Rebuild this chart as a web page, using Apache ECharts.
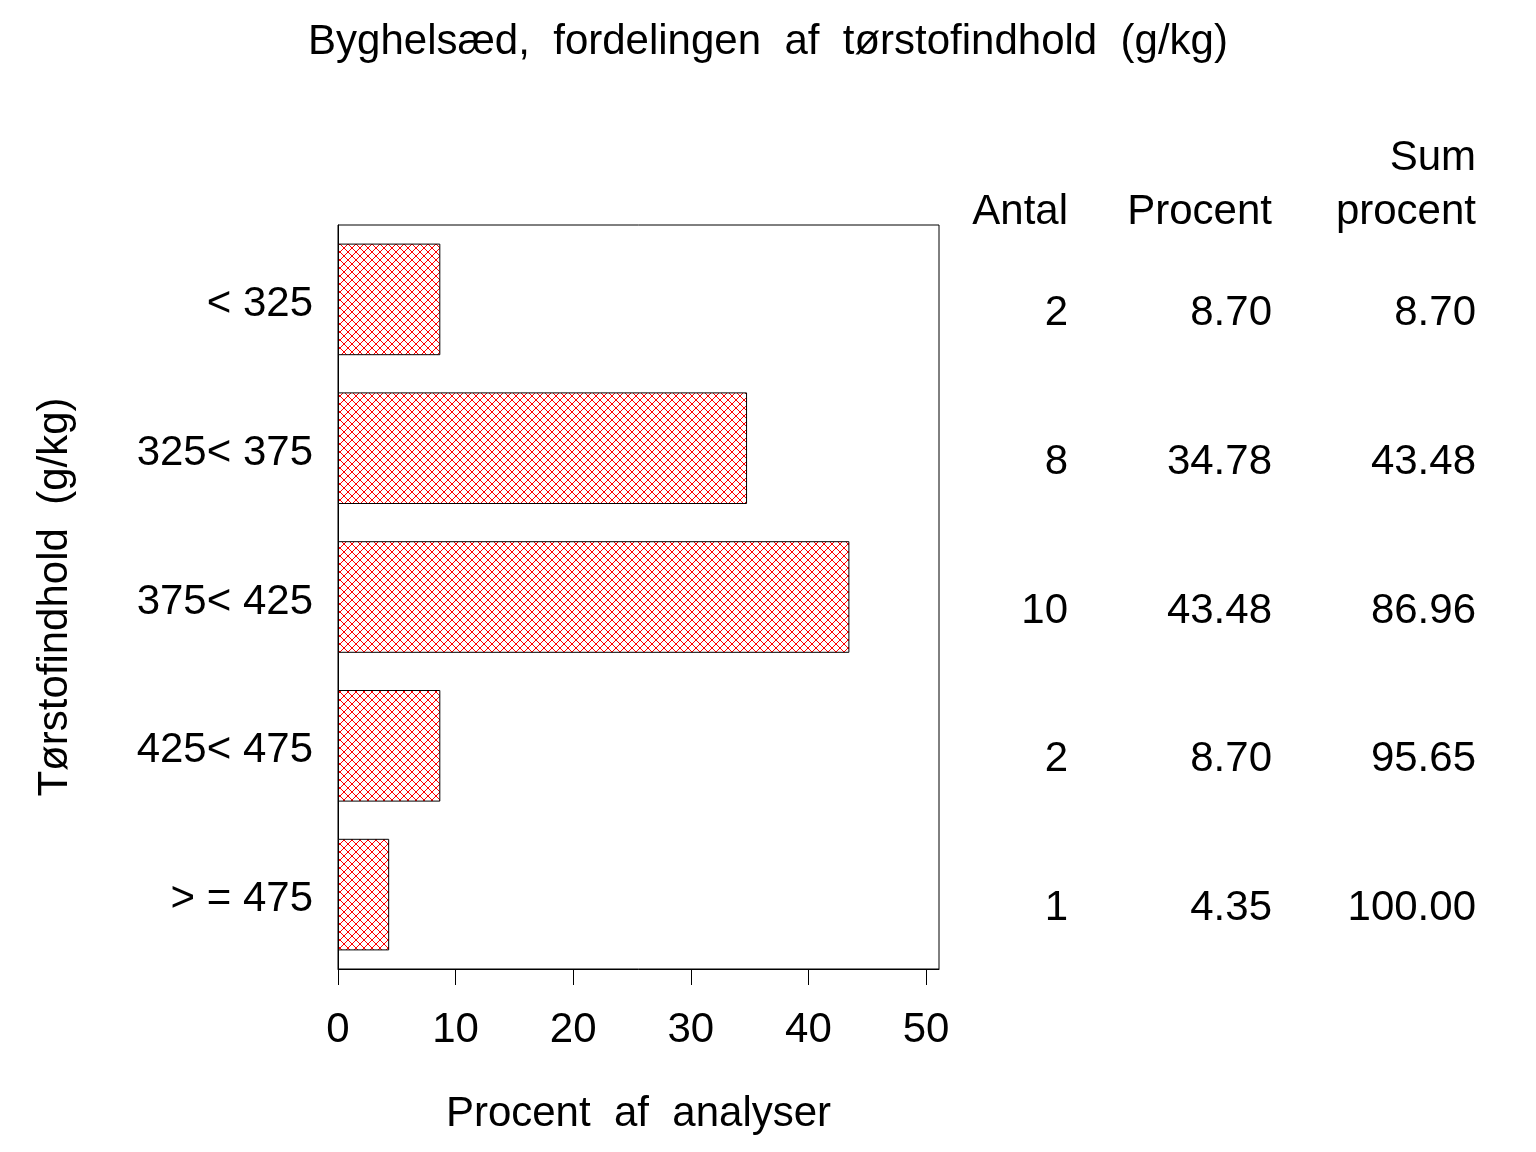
<!DOCTYPE html>
<html>
<head>
<meta charset="utf-8">
<script src="https://cdn.jsdelivr.net/npm/echarts@6/dist/echarts.min.js"></script>
<style>
    html, body {margin: 0; padding: 0; background: #fff;}
    #main {width: 1536px; height: 1152px;}
</style>
</head>
<body>
<div id="main"></div>
<script>
// data
var categories = ['< 325', '325< 375', '375< 425', '425< 475', '> = 475'];
var procent = [8.70, 34.78, 43.48, 8.70, 4.35];
var antal = [2, 8, 10, 2, 1];
var sumProcent = [8.70, 43.48, 86.96, 95.65, 100.00];
var xTicks = [0, 10, 20, 30, 40, 50];

var FONT = 'Liberation Sans';
var FS = 42;

// red cross hatch, drawn pixel by pixel so lines stay crisp
function hatch() {
    var n = 8;
    var c = document.createElement('canvas');
    c.width = n;
    c.height = n;
    var ctx = c.getContext('2d');
    ctx.fillStyle = '#fff';
    ctx.fillRect(0, 0, n, n);
    ctx.fillStyle = '#ff0000';
    for (var k = 0; k < n; k++) {
        ctx.fillRect(k, k, 1, 1);
        ctx.fillRect(n - 1 - k, k, 1, 1);
    }
    return c;
}

// table cells: [column, row, text]
var tableData = [];
for (var i = 0; i < categories.length; i++) {
    tableData.push([1, i, String(antal[i])]);
    tableData.push([2, i, procent[i].toFixed(2)]);
    tableData.push([3, i, sumProcent[i].toFixed(2)]);
}

var headFont = FS + 'px "Liberation Sans"';

var chart = echarts.init(document.getElementById('main'));
chart.setOption({
    animation: false,
    backgroundColor: '#fff',
    textStyle: {fontFamily: FONT, color: '#000'},
    title: {
        text: 'Byghelsæd,  fordelingen  af  tørstofindhold  (g/kg)',
        left: 'center',
        top: 16,
        textStyle: {fontFamily: FONT, fontSize: FS, fontWeight: 'normal', color: '#000'}
    },
    grid: [
        {left: 338, right: 597, top: 225, bottom: 183, show: true, borderColor: '#000', borderWidth: 1},
        {left: 864, width: 612, top: 225, bottom: 183}
    ],
    xAxis: [
        {
            type: 'value', gridIndex: 0, min: 0, max: 51.1,
            name: 'Procent  af  analyser', nameLocation: 'middle', nameGap: 124,
            nameTextStyle: {fontFamily: FONT, fontSize: FS, color: '#000'},
            splitLine: {show: false},
            axisLine: {show: true, lineStyle: {color: '#000', width: 1}},
            axisTick: {show: true, length: 16, customValues: xTicks, lineStyle: {color: '#000'}},
            axisLabel: {customValues: xTicks, margin: 40, fontFamily: FONT, fontSize: FS, color: '#000'}
        },
        {type: 'value', gridIndex: 1, min: 0, max: 3, show: false}
    ],
    yAxis: [
        {
            type: 'category', gridIndex: 0, data: categories, inverse: true,
            name: 'Tørstofindhold  (g/kg)', nameLocation: 'middle', nameGap: 262, nameRotate: 90,
            nameTextStyle: {fontFamily: FONT, fontSize: FS, color: '#000'},
            axisLine: {show: true, lineStyle: {color: '#000'}},
            axisTick: {show: false},
            axisLabel: {
                margin: 25,
                formatter: function (v) { return '{a|' + v + '}'; },
                rich: {a: {fontFamily: FONT, fontSize: FS, color: '#000', padding: [10, 0, 0, 0]}}
            }
        },
        {type: 'category', gridIndex: 1, data: categories, inverse: true, show: false}
    ],
    graphic: [
        {type: 'text', right: 60, top: 137, style: {text: 'Sum', font: headFont, fill: '#000'}},
        {type: 'text', right: 60, top: 191, style: {text: 'procent', font: headFont, fill: '#000'}},
        {type: 'text', right: 264, top: 191, style: {text: 'Procent', font: headFont, fill: '#000'}},
        {type: 'text', right: 468, top: 191, style: {text: 'Antal', font: headFont, fill: '#000'}}
    ],
    series: [
        {
            type: 'bar',
            xAxisIndex: 0, yAxisIndex: 0,
            data: procent,
            barCategoryGap: '25%',
            itemStyle: {
                color: {image: hatch(), repeat: 'repeat'},
                borderColor: '#000',
                borderWidth: 1
            }
        },
        {
            type: 'scatter',
            xAxisIndex: 1, yAxisIndex: 1,
            symbolSize: 0,
            data: tableData,
            itemStyle: {opacity: 1},
            label: {
                show: true,
                position: 'left',
                distance: 0,
                offset: [0, 14],
                formatter: function (p) { return p.value[2]; },
                fontFamily: FONT, fontSize: FS, color: '#000'
            }
        }
    ]
});
</script>
</body>
</html>
